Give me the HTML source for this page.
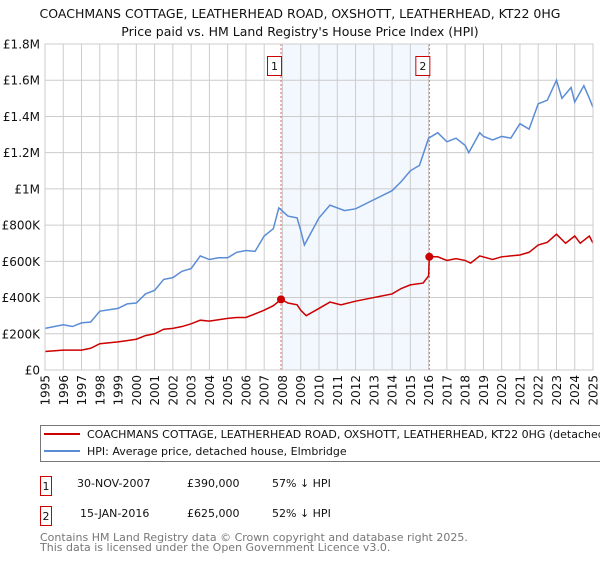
<!DOCTYPE html>
<html><head><meta charset="utf-8"><style>
body{margin:0;background:#fff;font-family:"Liberation Sans","DejaVu Sans",sans-serif;}
svg text{font-family:"DejaVu Sans","Liberation Sans",sans-serif;}
</style></head><body>
<svg id="chart" width="600" height="560" xmlns="http://www.w3.org/2000/svg">
<text x="300" y="18" text-anchor="middle" font-size="12.5" fill="#111">COACHMANS COTTAGE, LEATHERHEAD ROAD, OXSHOTT, LEATHERHEAD, KT22 0HG</text>
<text x="300" y="36" text-anchor="middle" font-size="12.5" fill="#111">Price paid vs. HM Land Registry's House Price Index (HPI)</text>
<g id="plot"></g>
<rect x="40.5" y="425.5" width="570" height="36" fill="#fff" stroke="#777"/>
<line x1="44" y1="434" x2="80" y2="434" stroke="#cc0000" stroke-width="2"/>
<text x="87" y="438" font-size="11" fill="#111">COACHMANS COTTAGE, LEATHERHEAD ROAD, OXSHOTT, LEATHERHEAD, KT22 0HG (detached h</text>
<line x1="44" y1="451" x2="80" y2="451" stroke="#5b8dd6" stroke-width="2"/>
<text x="87" y="455" font-size="11" fill="#111">HPI: Average price, detached house, Elmbridge</text>
<g font-size="11" fill="#111">
<rect x="40.5" y="476.5" width="11" height="19" fill="#fff" stroke="#cc0000"/>
<text x="46" y="490" text-anchor="middle">1</text>
<text x="77" y="487">30-NOV-2007</text><text x="187" y="487">£390,000</text><text x="272" y="487">57% ↓ HPI</text></g>
<g font-size="11" fill="#111">
<rect x="40.5" y="506.5" width="11" height="19" fill="#fff" stroke="#cc0000"/>
<text x="46" y="520" text-anchor="middle">2</text>
<text x="80" y="517">15-JAN-2016</text><text x="187" y="517">£625,000</text><text x="272" y="517">52% ↓ HPI</text></g>
<text x="40" y="541" font-size="11" fill="#777">Contains HM Land Registry data © Crown copyright and database right 2025.</text>
<text x="40" y="551" font-size="11" fill="#777">This data is licensed under the Open Government Licence v3.0.</text>
</svg>
<script>
const yTicks=[0,200000,400000,600000,800000,1000000,1200000,1400000,1600000,1800000];
const yTickLabels=["£0","£200K","£400K","£600K","£800K","£1M","£1.2M","£1.4M","£1.6M","£1.8M"];
const xYears=[1995,1996,1997,1998,1999,2000,2001,2002,2003,2004,2005,2006,2007,2008,2009,2010,2011,2012,2013,2014,2015,2016,2017,2018,2019,2020,2021,2022,2023,2024,2025];
const hpiT=[1995,1996,1996.5,1997,1997.5,1998,1999,1999.5,2000,2000.5,2001,2001.5,2002,2002.5,2003,2003.5,2004,2004.5,2005,2005.5,2006,2006.5,2007,2007.5,2007.8,2008.3,2008.8,2009,2009.2,2010,2010.6,2011.4,2012,2013,2014,2014.5,2015,2015.5,2016,2016.5,2017,2017.5,2018,2018.2,2018.8,2019,2019.5,2020,2020.5,2021,2021.5,2022,2022.5,2023,2023.3,2023.8,2024,2024.5,2024.8,2025];
const hpiV=[230,250,240,260,265,325,340,365,370,420,440,500,510,545,560,630,610,620,620,650,660,655,740,780,895,850,840,770,690,840,910,880,890,940,990,1040,1100,1130,1280,1310,1260,1280,1240,1200,1310,1290,1270,1290,1280,1360,1330,1470,1490,1600,1500,1560,1480,1570,1500,1450];
const ppT=[1995,1996,1997,1997.5,1998,1999,2000,2000.5,2001,2001.5,2002,2002.5,2003,2003.5,2004,2005,2005.5,2006,2007,2007.5,2007.92,2008.3,2008.8,2009,2009.3,2010,2010.6,2011.2,2012,2013,2014,2014.5,2015,2015.7,2016.0,2016.04,2016.5,2017,2017.5,2018,2018.3,2018.8,2019.5,2020,2021,2021.5,2022,2022.5,2023,2023.5,2024,2024.3,2024.8,2025];
const ppV=[102,110,110,120,145,155,170,190,200,225,230,240,255,275,270,285,290,290,330,355,390,370,360,330,300,340,375,360,380,400,420,450,470,480,520,625,625,605,615,605,590,630,610,625,635,650,690,705,750,700,740,700,740,700];
const saleT=[2007.92,2016.04];
const saleV=[390,625];
const saleLabels=["1","2"];
const X0=45,X1=593,Y0=370,Y1=44;
const x=t=>X0+(t-1995)/30*(X1-X0);
const y=v=>Y0-v/1800000*(Y0-Y1);
const NS="http://www.w3.org/2000/svg";
const g=document.getElementById('plot');
function mk(tag,attrs){const e=document.createElementNS(NS,tag);for(const k in attrs)e.setAttribute(k,attrs[k]);g.appendChild(e);return e;}
let sh=mk('rect',{x:x(saleT[0]),y:Y1,width:x(saleT[1])-x(saleT[0]),height:Y0-Y1,fill:'#eef3fd',opacity:0.7});


yTicks.forEach((v,i)=>{
 let l=mk('line',{x1:X0,x2:X1,y1:y(v),y2:y(v),stroke:'#ccc'});
 
 
 let t=mk('text',{x:X0-5,y:y(v)+4.5,'text-anchor':'end','font-size':'12',fill:'#111'});
 t.textContent=yTickLabels[i];
 
 
});
xYears.forEach(yr=>{
 let l=mk('line',{x1:x(yr),x2:x(yr),y1:Y1,y2:Y0,stroke:'#ccc'});
 
 
 let t=mk('text',{x:0,y:0,'text-anchor':'end','font-size':'12',fill:'#111',transform:`translate(${x(yr)+4.5},${Y0+5}) rotate(-90)`});
 t.textContent=yr;
 
 
});
saleT.forEach((t,i)=>{
 let l=mk('line',{x1:x(t),x2:x(t),y1:Y1,y2:Y0,stroke:'#e06666','stroke-dasharray':'2,2'});
 
 
 let r=mk('rect',{x:x(t)-13.5,y:56.5,width:14,height:19,fill:'#fff',stroke:'#cc0000'});
 
 
 let tx=mk('text',{x:x(t)-6.5,y:70,'text-anchor':'middle','font-size':'11',fill:'#111'});
 tx.textContent=saleLabels[i];
 
 
});
let hp=mk('polyline',{points:hpiT.map((t,i)=>x(t)+','+y(hpiV[i]*1000)).join(' '),fill:'none',stroke:'#5b8dd6','stroke-width':1.5});


let pp=mk('polyline',{points:ppT.map((t,i)=>x(t)+','+y(ppV[i]*1000)).join(' '),fill:'none',stroke:'#cc0000','stroke-width':1.5});


saleT.forEach((t,i)=>{
 let c=mk('circle',{cx:x(t),cy:y(saleV[i]*1000),r:4,fill:'#cc0000'});
 
 
});
let ax=mk('rect',{x:X0,y:Y1,width:X1-X0,height:Y0-Y1,fill:'none',stroke:'#ccc'});


</script>
</body></html>
